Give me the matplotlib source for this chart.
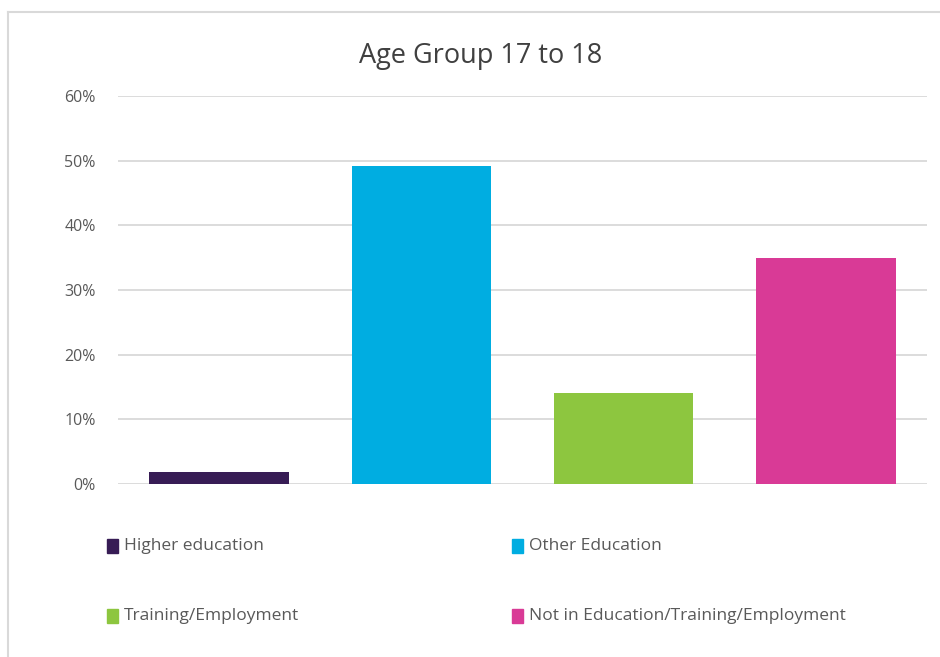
import matplotlib
matplotlib.use("Agg")
import matplotlib.pyplot as plt
from matplotlib.lines import Line2D
from matplotlib.patches import Rectangle
from matplotlib.ticker import FuncFormatter

categories = ["Higher education", "Other Education",
              "Training/Employment", "Not in Education/Training/Employment"]
values = [1.9, 49.2, 14.0, 35.0]
colors = ["#371c55", "#00ade1", "#8dc63f", "#d93a96"]
y_ticks = [0, 10, 20, 30, 40, 50, 60]

plt.rcParams['font.family'] = ['Open Sans', 'DejaVu Sans']

fig = plt.figure(figsize=(9.4, 6.57), dpi=100)
ax = fig.add_axes([118 / 940, 173 / 657, 809 / 940, 388 / 657])

x = range(len(categories))
bars = ax.bar(x, values, width=0.69, color=colors, zorder=3)

ax.set_xlim(-0.5, len(categories) - 0.5)
ax.set_ylim(0, 60)
ax.set_yticks(y_ticks)
ax.yaxis.set_major_formatter(FuncFormatter(lambda v, p: f"{v:.0f}%"))
ax.set_xticks([])
ax.grid(axis='y', color='#d9d9d9', linewidth=1.3, zorder=0)
for s in ax.spines.values():
    s.set_visible(False)
ax.tick_params(axis='y', length=0, pad=16, labelsize=11.5, labelcolor='#595959')

fig.text(481 / 940, 1 - 56 / 657, "Age Group 17 to 18", ha='center', va='center',
         fontsize=19.5, color='#404040')

# legend, two columns
key_x = [107, 512]
row_y = [546, 616]
for i, (lab, col) in enumerate(zip(categories, colors)):
    kx = key_x[i % 2]
    ky = row_y[i // 2]
    fig.patches.append(Rectangle((kx / 940, 1 - (ky + 7) / 657), 11 / 940, 14 / 657,
                                 transform=fig.transFigure, color=col))
    fig.text((kx + 17) / 940, 1 - ky / 657, lab, ha='left', va='center',
             fontsize=12.5, color='#595959')

# chart frame (top and left edges visible)
fig.add_artist(Line2D([8 / 940, 1], [1 - 12 / 657, 1 - 12 / 657],
                      transform=fig.transFigure, color='#d9d9d9', linewidth=1.5))
fig.add_artist(Line2D([8 / 940, 8 / 940], [0, 1 - 12 / 657],
                      transform=fig.transFigure, color='#d9d9d9', linewidth=1.5))

fig.savefig("out.png", dpi=100)
